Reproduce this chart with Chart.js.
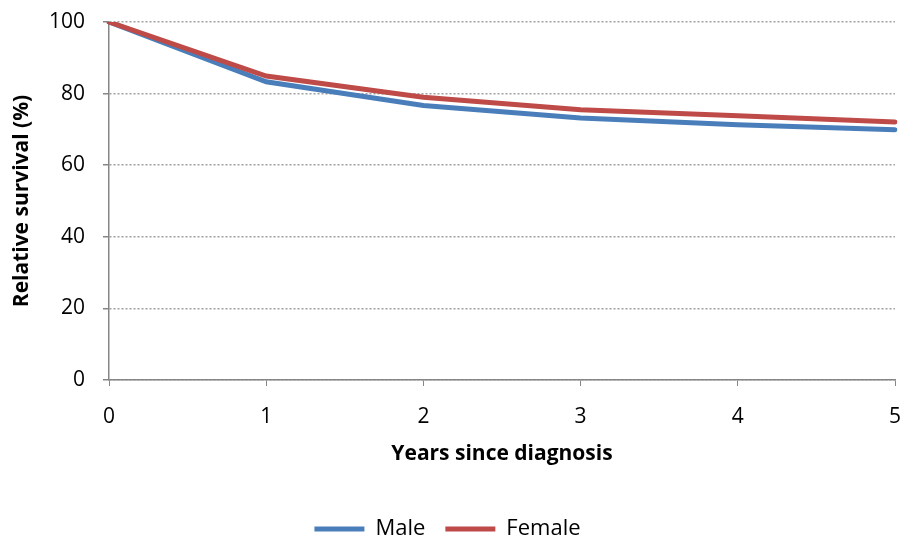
<!DOCTYPE html>
<html>
<head>
<meta charset="utf-8">
<script src="https://cdn.jsdelivr.net/npm/chart.js@4/dist/chart.umd.min.js"></script>
<style>
  html, body { margin: 0; padding: 0; background: #fff; }
  #wrap { width: 905px; height: 541px; }
</style>
</head>
<body>
<div id="wrap"><canvas id="survivalChart" width="905" height="541"></canvas></div>
<script>
// Data
const years = ['0', '1', '2', '3', '4', '5'];
const maleSurvival = [100, 83.3, 76.7, 73.2, 71.3, 69.9];
const femaleSurvival = [100, 84.9, 79.0, 75.5, 73.8, 72.1];
const yTicks = [0, 20, 40, 60, 80, 100];

const axisGrey = '#868686';
const fontFamily = '"Open Sans", Lato, sans-serif';

const ctx = document.getElementById('survivalChart').getContext('2d');
new Chart(ctx, {
    type: 'line',
    data: {
        labels: years,
        datasets: [
            {
                label: 'Male',
                data: maleSurvival,
                borderColor: '#4a7ebb',
                backgroundColor: '#4a7ebb',
                borderWidth: 5,
                borderCapStyle: 'round',
                pointRadius: 0,
                tension: 0,
                order: 2
            },
            {
                label: 'Female',
                data: femaleSurvival,
                borderColor: '#be4b48',
                backgroundColor: '#be4b48',
                borderWidth: 5,
                borderCapStyle: 'round',
                pointRadius: 0,
                tension: 0,
                order: 1
            }
        ]
    },
    options: {
        responsive: false,
        animation: false,
        layout: { padding: { top: 22, right: 10, left: 0, bottom: -9 } },
        plugins: {
            tooltip: { enabled: false },
            legend: {
                position: 'bottom',
                labels: {
                    usePointStyle: true,
                    pointStyle: 'line',
                    pointStyleWidth: 50,
                    boxHeight: 5,
                    padding: 20,
                    color: '#000',
                    sort: (a, b) => a.datasetIndex - b.datasetIndex,
                    font: { family: fontFamily, size: 22 }
                }
            }
        },
        scales: {
            x: {
                offset: false,
                grid: {
                    drawOnChartArea: false,
                    drawTicks: true,
                    tickLength: 6,
                    tickColor: axisGrey,
                    lineWidth: 1
                },
                border: { color: axisGrey, width: 1.5 },
                ticks: {
                    padding: 18,
                    color: '#000',
                    maxRotation: 0,
                    font: { family: fontFamily, size: 21 }
                },
                title: {
                    display: true,
                    text: 'Years since diagnosis',
                    color: '#000',
                    padding: { top: 0, bottom: 31 },
                    font: { family: fontFamily, size: 21, weight: 'bold' }
                },
                afterFit: (scale) => {
                    scale.height = 118;
                    scale.paddingLeft = 0;
                    scale.paddingRight = 0;
                }
            },
            y: {
                min: 0,
                max: 100,
                afterBuildTicks: (scale) => { scale.ticks = yTicks.map(v => ({ value: v })); },
                grid: {
                    color: '#a0a0a0',
                    lineWidth: 1.5,
                    drawTicks: true,
                    tickLength: 6,
                    tickColor: axisGrey,
                    tickBorderDash: []
                },
                border: { color: axisGrey, width: 1.5, dash: [2, 2] },
                ticks: {
                    padding: 18,
                    color: '#000',
                    font: { family: fontFamily, size: 21 }
                },
                title: {
                    display: true,
                    text: 'Relative survival (%)',
                    color: '#000',
                    padding: { top: 9, bottom: 0 },
                    font: { family: fontFamily, size: 21, weight: 'bold' }
                },
                afterFit: (scale) => {
                    scale.width = 109;
                    scale.paddingTop = 0;
                    scale.paddingBottom = 0;
                }
            }
        }
    }
});
</script>
</body>
</html>
